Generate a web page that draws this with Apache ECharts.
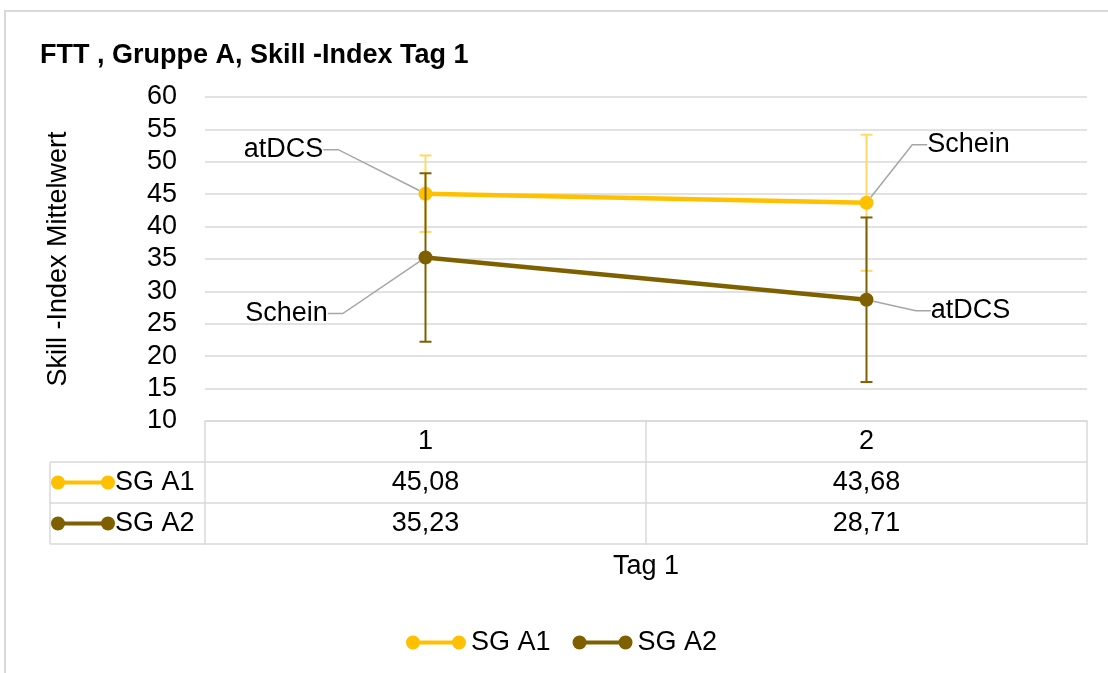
<!DOCTYPE html>
<html>
<head>
<meta charset="utf-8">
<script src="https://cdn.jsdelivr.net/npm/echarts@6/dist/echarts.min.js"></script>
<style>
  html, body { margin: 0; padding: 0; background: #fff; }
  #chart { width: 1108px; height: 673px; }
</style>
</head>
<body>
<div id="chart"></div>
<script>
// data
var categories = ['1', '2'];
var seriesNames = ['SG A1', 'SG A2'];
var meanA1 = [45.08, 43.68];
var meanA2 = [35.23, 28.71];
var sdA1 = [5.9, 10.5];
var sdA2 = [13.0, 12.7];
var labelsA1 = ['atDCS', 'Schein'];
var labelsA2 = ['Schein', 'atDCS'];
var yMin = 10, yMax = 60, yStep = 5;

var colA1 = '#FFC000', colA1Err = '#FFD966';
var colA2 = '#7F6000', colA2Err = '#7F6000';
var gridCol = '#D9D9D9';
var font = "'Liberation Sans', Arial, sans-serif";
var fs = 27;

var gridLeft = 205, gridRight = 21, gridTop = 97, gridBottom = 252;
var rowH = 41;

var myChart = echarts.init(document.getElementById('chart'));

function fmt(v) {
    return v.toFixed(2).replace('.', ',');
}

// mittelwert +/- sd
function errData(means, sds) {
    return means.map(function (m, i) {
        return [i, m - sds[i], m + sds[i]];
    });
}

function errRender(color) {
    return function (params, api) {
        var lo = api.coord([api.value(0), api.value(1)]);
        var hi = api.coord([api.value(0), api.value(2)]);
        var cap = 6;
        var style = { stroke: color, lineWidth: 2 };
        return {
            type: 'group',
            children: [
                { type: 'line', shape: { x1: lo[0], y1: lo[1], x2: hi[0], y2: hi[1] }, style: style },
                { type: 'line', shape: { x1: lo[0] - cap, y1: lo[1], x2: lo[0] + cap, y2: lo[1] }, style: style },
                { type: 'line', shape: { x1: hi[0] - cap, y1: hi[1], x2: hi[0] + cap, y2: hi[1] }, style: style }
            ]
        };
    };
}

// label offsets (px) relative to the point
var offA1 = [[-142, -44], [102, -58]];
var offA2 = [[-139, 56], [104, 11]];

function lineSeries(name, values, labels, color, offs) {
    return {
        name: name,
        type: 'line',
        data: values,
        symbol: 'circle',
        symbolSize: 14,
        itemStyle: { color: color },
        lineStyle: { color: color, width: 4.5 },
        label: {
            show: true,
            position: 'inside',
            fontFamily: font,
            fontSize: fs,
            color: '#000',
            formatter: function (p) { return labels[p.dataIndex]; }
        },
        labelLine: {
            show: true,
            length2: 15,
            minTurnAngle: 0,
            lineStyle: { color: '#A6A6A6', width: 1.5 }
        },
        labelLayout: function (p) {
            return { dx: offs[p.dataIndex][0], dy: offs[p.dataIndex][1] };
        }
    };
}

var legendIcon = 'path://M0,7a7,7 0 1,1 14,0a7,7 0 1,1 -14,0Z M46,7a7,7 0 1,1 14,0a7,7 0 1,1 -14,0Z M13,5H47V9H13Z';

var option = {
    animation: false,
    textStyle: { fontFamily: font },
    title: {
        text: 'FTT , Gruppe A, Skill -Index Tag 1',
        left: 35,
        top: 37,
        textStyle: { fontFamily: font, fontSize: fs, fontWeight: 'bold', color: '#000' }
    },
    legend: {
        data: seriesNames,
        left: 401,
        top: 624,
        icon: legendIcon,
        itemWidth: 60,
        itemHeight: 14,
        itemGap: 22,
        textStyle: { fontFamily: font, fontSize: fs, color: '#000' }
    },
    grid: { left: gridLeft, right: gridRight, top: gridTop, bottom: gridBottom },
    xAxis: {
        type: 'category',
        data: categories,
        name: 'Tag 1',
        nameLocation: 'middle',
        nameGap: 132,
        nameTextStyle: { fontFamily: font, fontSize: fs, color: '#000' },
        axisLine: { lineStyle: { color: gridCol, width: 1.5 } },
        axisTick: { show: true, length: rowH * 3 + 1, interval: 0, lineStyle: { color: gridCol, width: 1.5 } },
        axisLabel: {
            margin: 0,
            interval: 0,
            fontFamily: font,
            fontSize: fs,
            lineHeight: rowH,
            color: '#000',
            formatter: function (v, i) {
                return v + '\n' + fmt(meanA1[i]) + '\n' + fmt(meanA2[i]);
            }
        }
    },
    yAxis: {
        type: 'value',
        min: yMin,
        max: yMax,
        interval: yStep,
        name: 'Skill -Index Mittelwert',
        nameLocation: 'middle',
        nameRotate: 90,
        nameGap: 133,
        nameTextStyle: { fontFamily: font, fontSize: fs, color: '#000' },
        axisLine: { show: false },
        axisTick: { show: false },
        axisLabel: { margin: 28, fontFamily: font, fontSize: fs, color: '#000' },
        splitLine: { lineStyle: { color: gridCol, width: 1.5 } }
    },
    series: [
        lineSeries(seriesNames[0], meanA1, labelsA1, colA1, offA1),
        lineSeries(seriesNames[1], meanA2, labelsA2, colA2, offA2),
        {
            type: 'custom',
            name: 'errA1',
            data: errData(meanA1, sdA1),
            encode: { x: 0, y: [1, 2] },
            renderItem: errRender(colA1Err),
            z: 3
        },
        {
            type: 'custom',
            name: 'errA2',
            data: errData(meanA2, sdA2),
            encode: { x: 0, y: [1, 2] },
            renderItem: errRender(colA2Err),
            z: 4
        }
    ]
};

myChart.setOption(option);

// tabelle: linien und legendenzeilen
var axisY = myChart.convertToPixel({ yAxisIndex: 0 }, yMin);
var rightX = 1108 - gridRight;
var tableLeft = 50;
var g = [];
g.push({
    type: 'rect', shape: { x: 5, y: 11, width: 1200, height: 800 },
    style: { fill: 'none', stroke: gridCol, lineWidth: 2 }, silent: true
});
for (var k = 1; k <= 3; k++) {
    g.push({
        type: 'line',
        shape: { x1: tableLeft, y1: axisY + rowH * k, x2: rightX, y2: axisY + rowH * k },
        style: { stroke: gridCol, lineWidth: 1.5 }
    });
}
g.push({
    type: 'line',
    shape: { x1: tableLeft, y1: axisY + rowH, x2: tableLeft, y2: axisY + rowH * 3 },
    style: { stroke: gridCol, lineWidth: 1.5 }
});
var rowColors = [colA1, colA2];
seriesNames.forEach(function (n, i) {
    var cy = axisY + rowH * (i + 1.5);
    g.push({ type: 'line', shape: { x1: 58, y1: cy, x2: 108, y2: cy }, style: { stroke: rowColors[i], lineWidth: 4 } });
    g.push({ type: 'circle', shape: { cx: 58, cy: cy, r: 7 }, style: { fill: rowColors[i] } });
    g.push({ type: 'circle', shape: { cx: 108, cy: cy, r: 7 }, style: { fill: rowColors[i] } });
    g.push({
        type: 'text', x: 115, y: cy,
        style: { text: n, font: fs + 'px ' + font, fill: '#000', verticalAlign: 'middle', align: 'left' }
    });
});
myChart.setOption({ graphic: g });
</script>
</body>
</html>
